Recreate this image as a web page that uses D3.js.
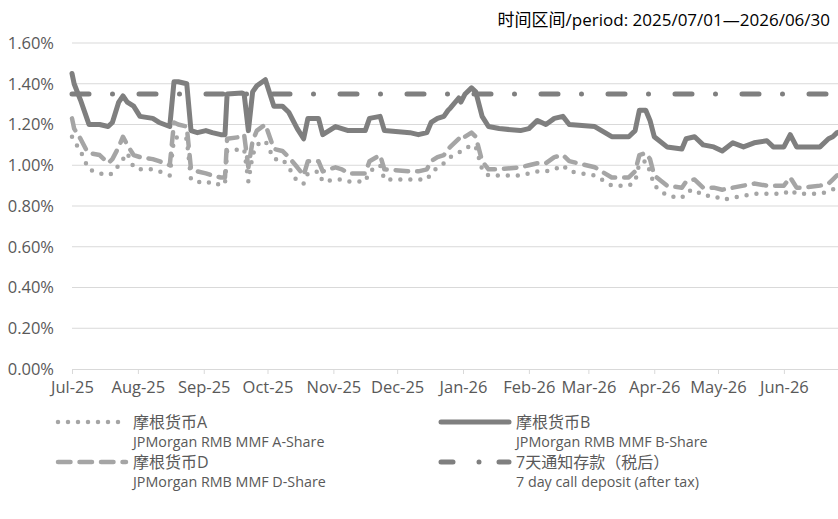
<!DOCTYPE html>
<html>
<head>
<meta charset="utf-8">
<script src="https://cdn.jsdelivr.net/npm/d3@7"></script>
<style>
  body { margin: 0; background: #fff; }
  text { font-family: "Open Sans", "Noto Sans CJK SC", sans-serif; }
</style>
</head>
<body>
<div id="chart"></div>
<script>
// observation dates (yield in %)
var dates = ["2025-07-01","2025-07-02","2025-07-05","2025-07-08","2025-07-09","2025-07-14","2025-07-18","2025-07-20","2025-07-23","2025-07-25",
  "2025-07-27","2025-07-30","2025-08-02","2025-08-08","2025-08-11","2025-08-16","2025-08-18","2025-08-20","2025-08-24","2025-08-26",
  "2025-08-29","2025-09-02","2025-09-05","2025-09-09","2025-09-11","2025-09-12","2025-09-19","2025-09-20","2025-09-22","2025-09-24",
  "2025-09-26","2025-09-30","2025-10-04","2025-10-08","2025-10-11","2025-10-15","2025-10-18","2025-10-20","2025-10-25","2025-10-27",
  "2025-11-02","2025-11-05","2025-11-08","2025-11-16","2025-11-18","2025-11-23","2025-11-25","2025-12-07","2025-12-11","2025-12-15",
  "2025-12-17","2025-12-20","2025-12-23","2025-12-25","2025-12-26","2025-12-30","2025-12-31","2026-01-02","2026-01-05","2026-01-07",
  "2026-01-10","2026-01-13","2026-01-18","2026-01-28","2026-02-01","2026-02-05","2026-02-09","2026-02-13","2026-02-17","2026-02-20",
  "2026-03-04","2026-03-12","2026-03-20","2026-03-23","2026-03-25","2026-03-28","2026-03-30","2026-04-01","2026-04-07","2026-04-14",
  "2026-04-16","2026-04-20","2026-04-24","2026-04-29","2026-05-03","2026-05-08","2026-05-13","2026-05-18","2026-05-24","2026-05-27",
  "2026-06-01","2026-06-04","2026-06-07","2026-06-10","2026-06-18","2026-06-22","2026-06-24","2026-06-26","2026-06-30"];

var shareA = [1.14,1.12,1.07,1.00,0.98,0.96,0.95,0.96,1.00,1.03,
  1.06,0.99,0.98,0.98,0.97,0.95,1.13,1.14,1.13,0.93,
  0.92,0.91,0.92,0.90,0.91,1.07,1.08,1.08,0.92,1.05,
  1.10,1.12,1.03,1.03,0.99,0.92,0.91,0.96,0.97,0.92,
  0.93,0.93,0.92,0.92,0.97,1.00,0.93,0.93,0.93,0.93,
  0.96,0.99,1.01,1.03,1.04,1.06,1.07,1.08,1.10,1.09,
  0.98,0.95,0.95,0.95,0.96,0.97,0.97,0.98,1.00,0.97,
  0.95,0.90,0.90,0.92,1.01,1.02,0.97,0.90,0.85,0.84,
  0.87,0.88,0.85,0.85,0.83,0.84,0.85,0.86,0.86,0.86,
  0.86,0.88,0.86,0.86,0.86,0.87,0.88,0.90,0.91];

var shareB = [1.45,1.40,1.32,1.23,1.20,1.20,1.19,1.21,1.31,1.34,
  1.31,1.29,1.24,1.23,1.21,1.19,1.41,1.41,1.40,1.17,
  1.16,1.17,1.16,1.15,1.15,1.35,1.355,1.35,1.17,1.36,
  1.39,1.42,1.29,1.29,1.26,1.18,1.13,1.23,1.23,1.15,
  1.19,1.18,1.17,1.17,1.23,1.24,1.17,1.16,1.15,1.16,
  1.21,1.23,1.24,1.27,1.28,1.33,1.31,1.35,1.38,1.36,
  1.24,1.19,1.18,1.17,1.18,1.22,1.20,1.23,1.24,1.20,
  1.19,1.14,1.14,1.17,1.27,1.27,1.22,1.14,1.09,1.08,
  1.13,1.14,1.10,1.09,1.07,1.11,1.09,1.11,1.12,1.09,
  1.09,1.15,1.09,1.09,1.09,1.13,1.14,1.16,1.17];

var shareD = [1.23,1.18,1.13,1.07,1.06,1.05,1.01,1.03,1.09,1.14,
  1.10,1.05,1.04,1.03,1.02,1.00,1.21,1.20,1.19,0.98,
  0.97,0.96,0.95,0.94,0.94,1.13,1.14,1.15,0.99,1.12,
  1.17,1.20,1.08,1.07,1.04,0.99,0.95,1.02,1.02,0.97,
  0.99,0.98,0.96,0.96,1.02,1.05,0.98,0.97,0.97,0.98,
  1.02,1.04,1.05,1.08,1.09,1.13,1.12,1.14,1.16,1.14,
  1.02,0.98,0.98,0.99,1.00,1.01,1.01,1.04,1.05,1.02,
  0.99,0.94,0.94,0.97,1.05,1.06,1.03,0.95,0.90,0.89,
  0.92,0.93,0.89,0.89,0.88,0.89,0.90,0.91,0.90,0.90,
  0.90,0.94,0.89,0.89,0.90,0.91,0.93,0.95,0.96];

var depositRate = 1.35;
var periodDates = ["2025-07-01", "2026-07-01"];
var yTicks = [0, 0.2, 0.4, 0.6, 0.8, 1.0, 1.2, 1.4, 1.6];

var seriesNames = [
  ["摩根货币A", "JPMorgan RMB MMF A-Share"],
  ["摩根货币B", "JPMorgan RMB MMF B-Share"],
  ["摩根货币D", "JPMorgan RMB MMF D-Share"],
  ["7天通知存款（税后）", "7 day call deposit (after tax)"]
];
var titleText = "时间区间/period: 2025/07/01—2026/06/30";

var W = 838, H = 519;
var parse = d3.timeParse("%Y-%m-%d");
var dayX = dates.map(parse);

var svg = d3.select("#chart").append("svg")
  .attr("width", W).attr("height", H);

var x = d3.scaleTime()
  .domain(periodDates.map(parse))
  .range([72, 72 + 365 * 2.125]);
var y = d3.scaleLinear().domain([0, 1.6]).range([369, 43]);

// gridlines
svg.append("g").selectAll("line")
  .data(yTicks.slice(1))
  .enter().append("line")
  .attr("x1", 72).attr("x2", W)
  .attr("y1", function(d) { return y(d); })
  .attr("y2", function(d) { return y(d); })
  .attr("stroke", "#d9d9d9").attr("stroke-width", 1);

// y labels
svg.append("g").selectAll("text")
  .data(yTicks)
  .enter().append("text")
  .attr("x", 54).attr("y", function(d) { return y(d); })
  .attr("dy", "0.35em")
  .attr("text-anchor", "end")
  .attr("font-size", 16.5)
  .attr("fill", "#595959")
  .text(function(d) { return d3.format(".2f")(d) + "%"; });

// x axis, one tick per month start (Jul-25 .. Jun-26)
var monthTicks = d3.timeMonth.range(parse(periodDates[0]), parse(periodDates[1]));
var xAxis = svg.append("g")
  .attr("transform", "translate(0," + y(0) + ")")
  .call(d3.axisBottom(x).tickValues(monthTicks).tickFormat(d3.timeFormat("%b-%y")).tickSizeOuter(0).tickSize(5).tickPadding(7));
xAxis.select(".domain").attr("stroke", "#d9d9d9");
xAxis.selectAll(".tick line").attr("stroke", "#d9d9d9");
xAxis.selectAll(".tick text")
  .attr("font-size", 16.5).attr("fill", "#595959")
  .style("font-family", "'Open Sans', sans-serif");

function lineOf(vals) {
  return d3.line()
    .x(function(d, i) { return x(dayX[i]); })
    .y(function(d) { return y(d); })(vals);
}

var styles = [
  { color: "#a5a5a5", width: 4.5, dash: "0,10" },
  { color: "#7f7f7f", width: 5, dash: null },
  { color: "#a5a5a5", width: 4.5, dash: "12.5,9" },
  { color: "#7f7f7f", width: 5, dash: "17,23.5,0,26.5" }
];
// the legend key of the deposit line is drawn a bit shorter
var legendDash = ["0,10", null, "12.5,9", "12,26,0,20"];

[shareA, shareB, shareD].forEach(function(vals, k) {
  svg.append("path")
    .attr("d", lineOf(vals))
    .attr("fill", "none")
    .attr("stroke", styles[k].color)
    .attr("stroke-width", styles[k].width)
    .attr("stroke-linecap", "round")
    .attr("stroke-linejoin", "round")
    .attr("stroke-dasharray", styles[k].dash);
});

svg.append("path")
  .attr("d", d3.line().x(function(d) { return x(parse(d)); }).y(function() { return y(depositRate); })(periodDates))
  .attr("fill", "none")
  .attr("stroke", styles[3].color)
  .attr("stroke-width", styles[3].width)
  .attr("stroke-linecap", "round")
  .attr("stroke-dasharray", styles[3].dash);

// title
svg.append("text")
  .attr("x", 830).attr("y", 20)
  .attr("dy", "0.35em")
  .attr("text-anchor", "end")
  .attr("font-size", 17)
  .attr("fill", "#000")
  .text(titleText);

// legend, two columns
var legendPos = [
  { x: 56, y: 422 }, { x: 439, y: 422 },
  { x: 56, y: 462 }, { x: 439, y: 462 }
];
var legend = svg.append("g");
seriesNames.forEach(function(names, k) {
  var p = legendPos[k];
  legend.append("line")
    .attr("x1", p.x + 2).attr("x2", p.x + 70)
    .attr("y1", p.y).attr("y2", p.y)
    .attr("stroke", styles[k].color)
    .attr("stroke-width", styles[k].width)
    .attr("stroke-linecap", "round")
    .attr("stroke-dasharray", legendDash[k]);
  legend.append("text")
    .attr("x", p.x + 77).attr("y", p.y).attr("dy", "0.35em")
    .attr("font-size", 16).attr("fill", "#595959")
    .text(names[0]);
  legend.append("text")
    .attr("x", p.x + 77).attr("y", p.y + 20).attr("dy", "0.35em")
    .attr("font-size", 14.3).attr("fill", "#595959")
    .text(names[1]);
});
</script>
</body>
</html>
